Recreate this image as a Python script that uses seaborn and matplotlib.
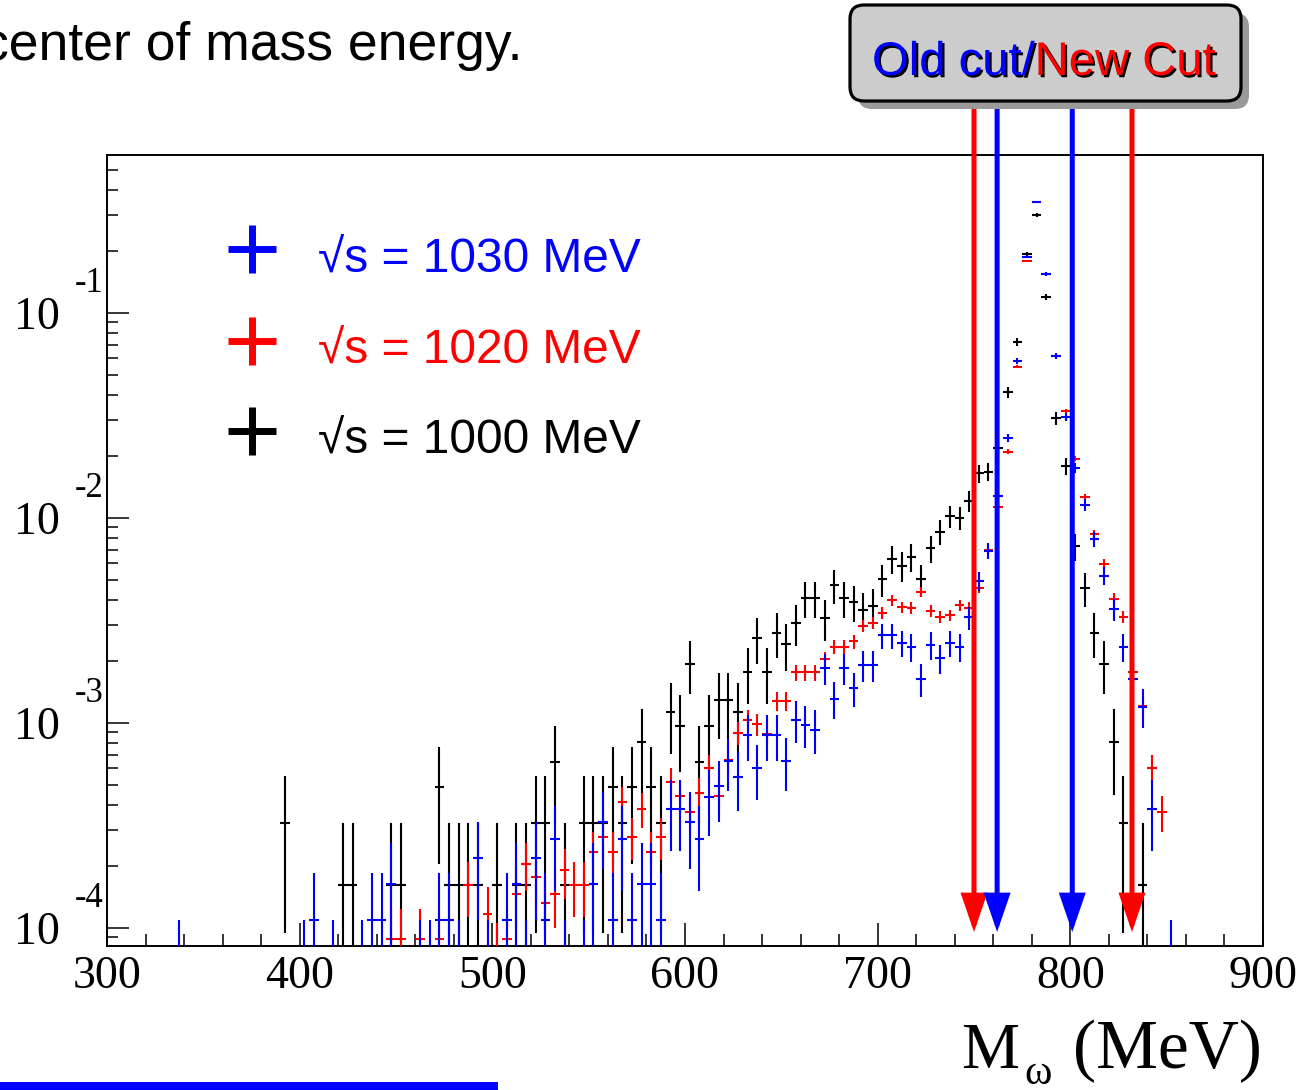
import numpy as np
import matplotlib
matplotlib.use("Agg")
import matplotlib.pyplot as plt
import seaborn as sns
from matplotlib import transforms
from matplotlib.patches import FancyBboxPatch, Rectangle
from matplotlib.lines import Line2D
from matplotlib.ticker import LogLocator, NullFormatter, MultipleLocator, FixedLocator
import matplotlib.patheffects as pe

# ---------------- data (5 MeV bins, event counts per bin) ----------------
black_mass = [392.5, 422.5, 427.5, 447.5, 452.5, 472.5, 477.5, 482.5, 487.5, 492.5,
              502.5, 512.5, 517.5, 522.5, 527.5, 532.5, 537.5, 547.5, 552.5, 557.5,
              562.5, 567.5, 572.5, 577.5, 582.5, 587.5, 592.5, 597.5, 602.5, 607.5,
              612.5, 617.5, 622.5, 627.5, 632.5, 637.5, 642.5, 647.5, 652.5, 657.5,
              662.5, 667.5, 672.5, 677.5, 682.5, 687.5, 692.5, 697.5, 702.5, 707.5,
              712.5, 717.5, 722.5, 727.5, 732.5, 737.5, 742.5, 747.5, 752.5, 757.5,
              762.5, 767.5, 772.5, 777.5, 782.5, 787.5, 792.5, 797.5, 802.5, 807.5,
              812.5, 817.5, 822.5, 827.5, 837.5]
black_counts = [2, 1, 1, 1, 1, 3, 1, 1, 1, 1,
                1, 1, 1, 2, 2, 4, 1, 2, 2, 2,
                3, 2, 3, 5, 3, 2, 7, 6, 12, 4,
                6, 8, 8, 7, 11, 16, 11, 17, 15, 19,
                25, 25, 20, 29, 25, 24, 22, 23, 31, 39,
                36, 40, 31, 44, 53, 63, 62, 75, 102, 104,
                135, 254, 445, 1197, 1854, 738, 190, 111, 45, 28,
                17, 12, 5, 2, 1]

red_mass = [447.5, 452.5, 462.5, 472.5, 487.5, 497.5, 502.5, 507.5, 512.5, 517.5,
            522.5, 527.5, 532.5, 537.5, 542.5, 547.5, 552.5, 557.5, 562.5, 567.5,
            572.5, 577.5, 582.5, 587.5, 592.5, 597.5, 602.5, 607.5, 612.5, 617.5,
            622.5, 627.5, 632.5, 637.5, 642.5, 647.5, 652.5, 657.5, 662.5, 667.5,
            672.5, 677.5, 682.5, 687.5, 692.5, 697.5, 702.5, 707.5, 712.5, 717.5,
            722.5, 727.5, 732.5, 737.5, 742.5, 747.5, 752.5, 757.5, 762.5, 767.5,
            772.5, 777.5, 782.5, 787.5, 792.5, 797.5, 802.5, 807.5, 812.5, 817.5,
            822.5, 827.5, 832.5, 837.5, 842.5, 847.5]
red_counts = [6, 6, 6, 6, 11, 8, 5, 6, 10, 14,
              12, 9, 10, 13, 11, 11, 16, 19, 16, 28,
              19, 26, 16, 19, 35, 30, 25, 31, 41, 30,
              45, 61, 70, 67, 60, 87, 87, 120, 120, 120,
              140, 160, 160, 170, 203, 210, 235, 270, 250, 248,
              297, 240, 224, 228, 256, 248, 310, 476, 772, 1432,
              3720, 12240, 23760, 10580, 4210, 2270, 1324, 864, 570, 407,
              275, 224, 120, 82, 41, 25]

blue_mass = [337.5, 402.5, 407.5, 417.5, 432.5, 437.5, 442.5, 447.5, 462.5, 467.5,
             472.5, 477.5, 482.5, 492.5, 497.5, 507.5, 512.5, 517.5, 522.5, 527.5,
             532.5, 537.5, 547.5, 552.5, 557.5, 562.5, 567.5, 572.5, 577.5, 582.5,
             587.5, 592.5, 597.5, 602.5, 607.5, 612.5, 617.5, 622.5, 627.5, 632.5,
             637.5, 642.5, 647.5, 652.5, 657.5, 662.5, 667.5, 672.5, 677.5, 682.5,
             687.5, 692.5, 697.5, 702.5, 707.5, 712.5, 717.5, 722.5, 727.5, 732.5,
             737.5, 742.5, 747.5, 752.5, 757.5, 762.5, 767.5, 772.5, 777.5, 782.5,
             787.5, 792.5, 797.5, 802.5, 807.5, 812.5, 817.5, 822.5, 827.5, 832.5,
             837.5, 842.5, 852.5]
blue_counts = [1, 1, 2, 1, 1, 2, 2, 3, 1, 1,
               2, 2, 1, 4, 1, 2, 3, 1, 4, 2,
               5, 1, 1, 3, 6, 2, 5, 2, 3, 3,
               2, 7, 7, 6, 5, 8, 9, 12, 10, 16,
               11, 16, 16, 12, 19, 18, 17, 34, 24, 34,
               27, 35, 35, 49, 49, 45, 43, 30, 44, 38,
               45, 43, 60, 90, 127, 235, 450, 1070, 3440, 6380,
               2840, 1130, 570, 322, 212, 145, 96, 66, 43, 30,
               22, 7, 1]

# normalisation (value of one event) for each sample
black_unit = 1.62e-4
red_unit = 1.47e-5
blue_unit = 5.46e-5

bin_width = 5.0
legend_labels = ["\u221as = 1030 MeV", "\u221as = 1020 MeV", "\u221as = 1000 MeV"]
legend_colors = ["#0000ff", "#ff0000", "#000000"]
cut_positions = [750, 762, 801, 832]
cut_colors = ["#ff0000", "#0000ff", "#0000ff", "#ff0000"]
xtick_values = [300, 400, 500, 600, 700, 800, 900]
decades = [-1, -2, -3, -4]

# ---------------- figure ----------------
sns.set_theme(style="white")
plt.rcParams["font.family"] = ["Liberation Sans", "DejaVu Sans"]
plt.rcParams["axes.unicode_minus"] = False

W, H = 1311, 1090
fig = plt.figure(figsize=(W / 100, H / 100), dpi=100)
fig.patch.set_facecolor("white")


def fx(px):
    return px / W


def fy(py):
    return 1 - py / H


AX_L, AX_R, AX_T, AX_B = 107, 1263, 155, 946
ax = fig.add_axes([fx(AX_L), fy(AX_B), (AX_R - AX_L) / W, (AX_B - AX_T) / H])
ax.set_facecolor("white")

ax.set_yscale("log")
ax.set_xlim(300, 900)
ax.set_ylim(8.17e-5, 0.59)

series = [
    (black_mass, black_counts, black_unit, "#000000"),
    (red_mass, red_counts, red_unit, "#ff0000"),
    (blue_mass, blue_counts, blue_unit, "#0000ff"),
]
for mass, counts, unit, color in series:
    m = np.asarray(mass, float)
    n = np.asarray(counts, float)
    y = n * unit
    err = np.sqrt(n) * unit
    lo = np.minimum(err, y * 0.999999)
    ax.errorbar(m, y, xerr=bin_width / 2, yerr=[lo, err], fmt="none",
                ecolor=color, elinewidth=1.5, capsize=0, zorder=3)

# spines & ticks
for s in ax.spines.values():
    s.set_color("black")
    s.set_linewidth(1.4)

ax.xaxis.set_major_locator(FixedLocator(xtick_values))
ax.xaxis.set_minor_locator(MultipleLocator(20))
ax.yaxis.set_major_locator(LogLocator(base=10, numticks=10))
ax.yaxis.set_minor_locator(LogLocator(base=10, subs=np.arange(2, 10), numticks=30))
ax.yaxis.set_major_formatter(NullFormatter())
ax.yaxis.set_minor_formatter(NullFormatter())
ax.tick_params(axis="x", which="major", direction="in", length=23 * 0.72, width=1.1,
               color="black", bottom=True, top=False, labelsize=33, pad=7,
               labelcolor="black")
ax.tick_params(axis="x", which="minor", direction="in", length=12 * 0.72, width=1.1,
               color="black", bottom=True, top=False)
ax.tick_params(axis="y", which="major", direction="in", length=22 * 0.72, width=1.1,
               color="black", left=True, right=False)
ax.tick_params(axis="y", which="minor", direction="in", length=11 * 0.72, width=1.1,
               color="black", left=True, right=False)
ax.set_xticklabels([str(v) for v in xtick_values])
for lab in ax.get_xticklabels():
    lab.set_family("Liberation Serif")
ax.grid(False)

# ROOT-style y labels "10" with exponent
ytrans = transforms.blended_transform_factory(ax.transAxes, ax.transData)


def axfrac(px):
    return (px - AX_L) / (AX_R - AX_L)


for d in decades:
    t10 = transforms.offset_copy(ytrans, fig=fig, x=0, y=-16 * 0.72, units="points")
    ax.text(axfrac(60), 10.0 ** d, "10", transform=t10, ha="right", va="baseline",
            family="Liberation Serif", fontsize=33, color="black", clip_on=False)
    te = transforms.offset_copy(ytrans, fig=fig, x=0, y=21 * 0.72, units="points")
    ax.text(axfrac(75), 10.0 ** d, "-%d" % abs(d), transform=te, ha="left", va="baseline",
            family="Liberation Serif", fontsize=25, color="black", clip_on=False)

# cut arrows
xt = ax.get_xaxis_transform()


def ya(py):
    return (AX_B - py) / (AX_B - AX_T)


for xc, col in zip(cut_positions, cut_colors):
    ax.annotate("", xy=(xc, ya(932)), xycoords=xt, xytext=(xc, ya(102)), textcoords=xt,
                arrowprops=dict(arrowstyle="-|>,head_length=1.05,head_width=0.36",
                                color=col, lw=3.6, mutation_scale=20,
                                shrinkA=0, shrinkB=0, joinstyle="miter"),
                annotation_clip=False, zorder=5)

# legend box "Old cut/New Cut"
ident = transforms.IdentityTransform()
shadow = FancyBboxPatch((858, H - 109), 391, 96,
                        boxstyle="round,pad=0,rounding_size=14",
                        transform=ident, facecolor="#9a9a9a", edgecolor="none", zorder=10)
box = FancyBboxPatch((850, H - 101), 391, 96,
                     boxstyle="round,pad=0,rounding_size=14",
                     transform=ident, facecolor="#cccccc", edgecolor="black",
                     linewidth=2.3, zorder=11)
fig.add_artist(shadow)
fig.add_artist(box)
shad = [pe.SimplePatchShadow(offset=(1.6, -1.6), shadow_rgbFace="black", alpha=1.0), pe.Normal()]
t1 = fig.text(fx(872), fy(75), "Old cut/", color="#0000ff", fontsize=34,
              ha="left", va="baseline", zorder=12, path_effects=shad)
fig.canvas.draw()
bb = t1.get_window_extent(renderer=fig.canvas.get_renderer())
fig.text(bb.x1 / W, fy(75), "New Cut", color="#ff0000", fontsize=34,
         ha="left", va="baseline", zorder=12, path_effects=shad)

# sample legend
plus_y = [249, 341, 431]
text_base = [273, 364, 454]
for lbl, col, py, pb in zip(legend_labels, legend_colors, plus_y, text_base):
    fig.add_artist(Line2D([fx(252)], [fy(py)], marker="+", markersize=35,
                          markeredgewidth=5, color=col, linestyle="none",
                          transform=fig.transFigure))
    fig.text(fx(318), fy(pb), lbl, color=col, fontsize=34.5, ha="left", va="baseline",
             family=["Liberation Sans", "DejaVu Sans"])

# x axis title  M_omega (MeV)
fig.text(fx(1262), fy(1068), "(MeV)", ha="right", va="baseline",
         family="Liberation Serif", fontsize=50, color="black")
fig.text(fx(1019), fy(1068), "M", ha="right", va="baseline",
         family="Liberation Serif", fontsize=47, color="black")
fig.text(fx(1024), fy(1084), "\u03c9", ha="left", va="baseline",
         family="Liberation Serif", fontsize=30, color="black")

# slide fragments
fig.text(fx(522), fy(60), "center of mass energy.", ha="right", va="baseline",
         fontsize=38.5, color="black")
fig.add_artist(Rectangle((0, 0), fx(498), 8 / H, transform=fig.transFigure,
                         facecolor="#0000ff", edgecolor="none"))

fig.savefig("out.png", dpi=100, facecolor="white")
